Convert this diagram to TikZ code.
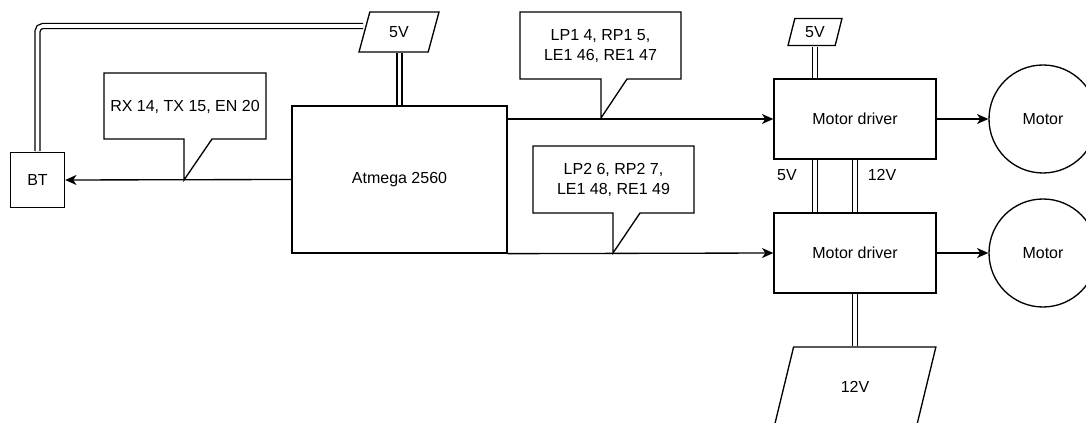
\documentclass[tikz,border=0pt]{standalone}
\usepackage{fontspec}
\setmainfont{Liberation Sans}
\usetikzlibrary{arrows.meta,shapes.geometric}

\begin{document}
\begin{tikzpicture}[x=0.75pt,y=-0.75pt,line width=1pt,
	font=\fontsize{12}{15}\selectfont,
	box/.style={draw,rectangle,align=center,inner sep=0pt},
	mot/.style={draw,circle,minimum size=81pt,inner sep=0pt},
	supply/.style={draw,trapezium,trapezium stretches,inner sep=0pt},
	dbl/.style={double,double distance=2.7pt,shorten <=0.5pt,shorten >=0.5pt},
	link/.style={-{Stealth[length=8.5pt,width=7.5pt,inset=2.5pt]}}
	]
	\useasboundingbox (0,0) rectangle (1086,423);
	% blocks
	\node[box,minimum width=40.5pt,minimum height=41.25pt] (bt) at (37.5,180) {BT};
	\node[box,minimum width=161.25pt,minimum height=110.25pt] (atm) at (399.5,179.5) {Atmega 2560};
	\node[box,minimum width=121.5pt,minimum height=60pt] (md1) at (855,119) {Motor driver};
	\node[box,minimum width=121.5pt,minimum height=60pt] (md2) at (855,253) {Motor driver};
	\node[mot] (mot1) at (1043,119) {Motor};
	\node[mot] (mot2) at (1043,253) {Motor};
	% supplies
	\node[supply,trapezium left angle=72,trapezium right angle=108,minimum width=60pt,minimum height=30pt] (vbt) at (399,32) {5V};
	\node[supply,trapezium left angle=73.5,trapezium right angle=106.5,minimum width=40.5pt,minimum height=20.25pt] (vmd) at (815,32) {5V};
	\node[supply,trapezium left angle=68,trapezium right angle=112,minimum width=121.5pt,minimum height=60pt] (vin) at (855,387) {12V};
	\node (l5v) at (787,175) {5V};
	\node (l12v) at (882,175) {12V};
	% signal lines
	\draw[link] (atm.west) -- (bt.east);
	\draw[link] (atm.east |- md1.west) -- (md1.west);
	\draw[link] (atm.south east) -- (md2.west);
	\draw[link] (md1.east) -- (mot1.west);
	\draw[link] (md2.east) -- (mot2.west);
	% power lines
	\draw[dbl] (atm.north) -- (atm.north |- vbt.south);
	\draw[dbl,rounded corners=4pt] ([yshift=4.5pt]vbt.west) -| (bt.north);
	\draw[dbl] (vmd.center |- vmd.south) -- (vmd.center |- md1.north);
	\draw[dbl] (vmd.center |- md1.south) -- (vmd.center |- md2.north);
	\draw[dbl] (md1.south) -- (md2.north);
	\draw[dbl] (md2.south) -- (md2.south |- vin.north);
	% pin notes
	\coordinate (rxtip) at (184,180);
	\coordinate (lp1tip) at (601,118);
	\coordinate (lp2tip) at (613,253);
	\draw (104,73) -- (266,73) -- (266,139) -- (212,139) -- (rxtip) -- (184,139) -- (104,139) -- cycle;
	\node (rxnote) at (185,107) {RX 14, TX 15, EN 20};
	\draw (520,12) -- (681,12) -- (681,79) -- (627,79) -- (lp1tip) -- (601,79) -- (520,79) -- cycle;
	\node[align=center] (lp1note) at (600.5,46) {LP1 4, RP1 5,\\LE1 46, RE1 47};
	\draw (533,146) -- (694,146) -- (694,213) -- (640,213) -- (lp2tip) -- (613,213) -- (533,213) -- cycle;
	\node[align=center] (lp2note) at (613.5,180) {LP2 6, RP2 7,\\LE1 48, RE1 49};
\end{tikzpicture}
\end{document}
